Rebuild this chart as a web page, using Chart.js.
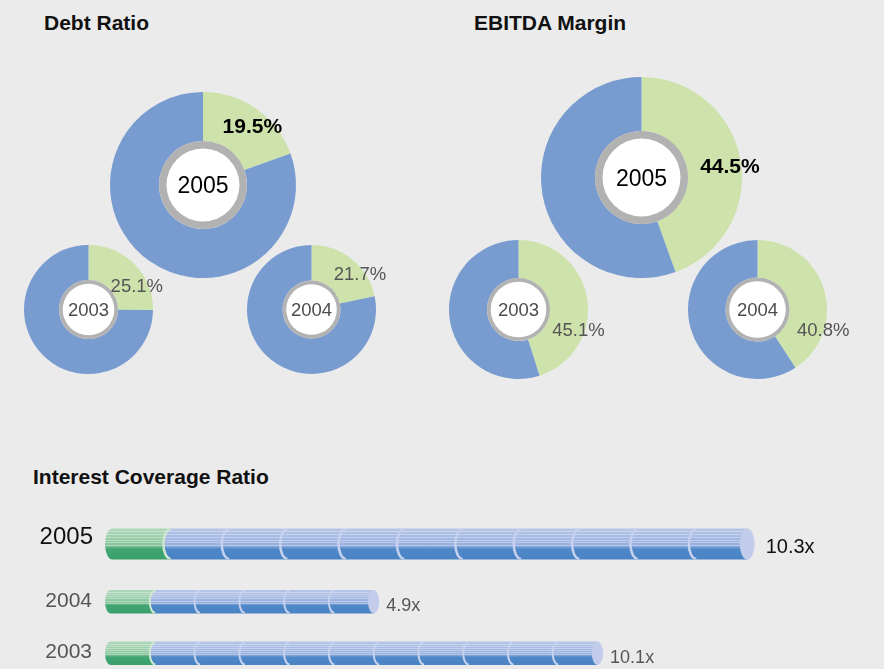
<!DOCTYPE html>
<html>
<head>
<meta charset="utf-8">
<script src="https://cdn.jsdelivr.net/npm/chart.js@4.4.0/dist/chart.umd.min.js"></script>
<style>
html, body { margin: 0; padding: 0; background: #ebebeb; overflow: hidden; }
#page { position: relative; width: 884px; height: 669px; font-family: Arial, 'Liberation Sans', sans-serif; }
#page canvas { position: absolute; }
.title { position: absolute; font-weight: bold; font-size: 21px; line-height: 21px; color: #111; white-space: nowrap; }
</style>
</head>
<body>
<div id="page">
  <div class="title" style="left:44px;top:12px">Debt Ratio</div>
  <div class="title" style="left:474px;top:12px">EBITDA Margin</div>
  <div class="title" style="left:33px;top:466px">Interest Coverage Ratio</div>
</div>
<script>
const FONT = "Arial, 'Liberation Sans', sans-serif";

// doughnut data
const years = ['2003', '2004', '2005'];
const debtRatio = [25.1, 21.7, 19.5];
const ebitdaMargin = [45.1, 40.8, 44.5];

// interest coverage
const coverageYears = ['2005', '2004', '2003'];
const coverageRatio = [10.3, 4.9, 10.1];
const greenBlocks = [1, 1, 1];
const blueBlocks = [10, 5, 10];

const BLUE = '#789cd0';
const GREEN = '#cee3ab';

// placement of each doughnut (same order as years)
const debtLayout = [
  { cx: 88.5, cy: 309.5, r: 64.5, ring: 29.5, dx: 15, dy: 9 },
  { cx: 311.5, cy: 309.5, r: 64.5, ring: 29, dx: 19, dy: 0 },
  { cx: 203, cy: 185, r: 93, ring: 44, dx: 10, dy: -3, big: true }
];
const ebitdaLayout = [
  { cx: 518.5, cy: 309.5, r: 69.5, ring: 31.5, dx: 10, dy: 28 },
  { cx: 757.5, cy: 309.5, r: 69.5, ring: 32, dx: 17, dy: 34 },
  { cx: 641.5, cy: 177, r: 100.5, ring: 46.5, dx: 16, dy: 1, big: true }
];

const page = document.getElementById('page');

function addCanvas(left, top, w, h) {
  const c = document.createElement('canvas');
  c.width = w;
  c.height = h;
  c.style.left = left + 'px';
  c.style.top = top + 'px';
  c.style.width = w + 'px';
  c.style.height = h + 'px';
  page.appendChild(c);
  return c;
}

// grey ring + white centre with the year, and the % label
function ringPlugin(year, label, lay) {
  const big = !!lay.big;
  const yearSize = big ? 23 : 18.5;
  const labelSize = big ? 21 : 18.5;
  const ringW = big ? 7.5 : 3.7;
  return {
    id: 'ring',
    afterDatasetsDraw(chart) {
      const ctx = chart.ctx;
      const arc = chart.getDatasetMeta(0).data[0];
      const x = arc.x, y = arc.y;
      ctx.save();
      ctx.fillStyle = '#b2b2b2';
      ctx.beginPath();
      ctx.arc(x, y, lay.ring, 0, Math.PI * 2);
      ctx.fill();
      ctx.fillStyle = '#fff';
      ctx.beginPath();
      ctx.arc(x, y, lay.ring - ringW, 0, Math.PI * 2);
      ctx.fill();

      ctx.textAlign = 'center';
      ctx.textBaseline = 'alphabetic';
      ctx.fillStyle = big ? '#000' : '#4d4d4d';
      ctx.font = yearSize + 'px ' + FONT;
      ctx.fillText(year, x, y + yearSize * 0.358);

      const p = arc.getCenterPoint();
      ctx.font = (big ? 'bold ' : '') + labelSize + 'px ' + FONT;
      ctx.fillStyle = big ? '#000' : '#555';
      ctx.fillText(label, p.x + lay.dx, p.y + lay.dy + labelSize * 0.358);
      ctx.restore();
    }
  };
}

function drawDoughnut(year, value, lay) {
  const pad = 40;
  const size = Math.round(lay.r * 2) + pad * 2;
  const c = addCanvas(Math.round(lay.cx - lay.r - pad), Math.round(lay.cy - lay.r - pad), size, size);
  new Chart(c, {
    type: 'doughnut',
    data: {
      labels: ['ratio', 'rest'],
      datasets: [{
        data: [value, 100 - value],
        backgroundColor: [GREEN, BLUE],
        borderWidth: 0
      }]
    },
    options: {
      responsive: false,
      animation: false,
      events: [],
      cutout: lay.ring,
      layout: { padding: pad },
      plugins: { legend: { display: false }, tooltip: { enabled: false } }
    },
    plugins: [ringPlugin(year, value.toFixed(1) + '%', lay)]
  });
}

years.forEach((y, i) => drawDoughnut(y, debtRatio[i], debtLayout[i]));
years.forEach((y, i) => drawDoughnut(y, ebitdaMargin[i], ebitdaLayout[i]));

// cylinder look for the coverage bars
function vgrad(ctx, top, h, stops) {
  const g = ctx.createLinearGradient(0, top, 0, top + h);
  stops.forEach(s => g.addColorStop(s[0], s[1]));
  return g;
}
const greenStops = [[0, '#b0d8bb'], [0.55, '#86c49a'], [0.62, '#5cb083'], [0.66, '#40a572'], [1, '#3b9f6c']];
const blueStops = [[0, '#b7c6e8'], [0.55, '#94addd'], [0.62, '#6e99d2'], [0.66, '#4f88c8'], [1, '#4a83c4']];

function cylinderPlugin(values, big) {
  const size = big ? 20 : 18;
  const gap = big ? 11 : 7;
  return {
    id: 'cylinder',
    afterDatasetsDraw(chart) {
      const ctx = chart.ctx;
      const gMeta = chart.getDatasetMeta(0);
      const bMeta = chart.getDatasetMeta(1);
      const xs = chart.scales.x;
      const unit = xs.getPixelForValue(1) - xs.getPixelForValue(0);
      gMeta.data.forEach((g, i) => {
        const b = bMeta.data[i];
        const h = b.height, y = b.y, top = y - h / 2, bot = y + h / 2;
        const x0 = g.base, x1 = g.x, x2 = b.x;
        const rx = h * 0.24;
        ctx.save();
        // green block with rounded left end
        ctx.beginPath();
        ctx.moveTo(x0 + rx, top);
        ctx.lineTo(x1 + rx, top);
        ctx.lineTo(x1 + rx, bot);
        ctx.lineTo(x0 + rx, bot);
        ctx.ellipse(x0 + rx, y, rx, h / 2, 0, Math.PI / 2, Math.PI * 1.5);
        ctx.closePath();
        ctx.fillStyle = vgrad(ctx, top, h, greenStops);
        ctx.fill();
        // blue body
        ctx.beginPath();
        ctx.moveTo(x1 + rx, top);
        ctx.lineTo(x2, top);
        ctx.lineTo(x2, bot);
        ctx.lineTo(x1 + rx, bot);
        ctx.ellipse(x1 + rx, y, rx, h / 2, 0, Math.PI / 2, Math.PI * 1.5);
        ctx.closePath();
        ctx.fillStyle = vgrad(ctx, top, h, blueStops);
        ctx.fill();
        // stripes on the upper half
        ctx.beginPath();
        ctx.moveTo(x0 + rx, top);
        ctx.lineTo(x2, top);
        ctx.lineTo(x2, bot);
        ctx.lineTo(x0 + rx, bot);
        ctx.ellipse(x0 + rx, y, rx, h / 2, 0, Math.PI / 2, Math.PI * 1.5);
        ctx.closePath();
        ctx.clip();
        ctx.strokeStyle = 'rgba(255,255,255,0.35)';
        ctx.lineWidth = 1;
        for (let k = 1; k < 7; k++) {
          const sy = Math.round(top + h * 0.09 * k) + 0.5;
          ctx.beginPath();
          ctx.moveTo(x0, sy);
          ctx.lineTo(x2, sy);
          ctx.stroke();
        }
        // joints between blocks
        const n = Math.round((x2 - x1) / unit);
        ctx.lineWidth = Math.max(2, h * 0.08);
        for (let k = 0; k < n; k++) {
          const bx = x1 + k * unit;
          ctx.strokeStyle = k === 0 ? '#cfe7d0' : '#c6d1ee';
          ctx.beginPath();
          ctx.ellipse(bx + rx, y, rx, h / 2 - 0.5, 0, Math.PI / 2, Math.PI * 1.5);
          ctx.stroke();
        }
        ctx.restore();
        // end cap
        ctx.fillStyle = '#c3cdeb';
        ctx.beginPath();
        ctx.ellipse(x2, y, rx, h / 2, 0, 0, Math.PI * 2);
        ctx.fill();
        // value label
        ctx.fillStyle = big ? '#111' : '#555';
        ctx.font = size + 'px ' + FONT;
        ctx.textAlign = 'left';
        ctx.textBaseline = 'alphabetic';
        ctx.fillText(values[i].toFixed(1) + 'x', x2 + rx + gap, y + size * 0.358 + (big ? 1.5 : 3));
      });
    }
  };
}

function drawCoverage(top, w, h, from, to, big) {
  const c = addCanvas(0, top, w, h);
  const thickness = big ? 31 : 23.5;
  new Chart(c, {
    type: 'bar',
    data: {
      labels: coverageYears.slice(from, to),
      datasets: [
        { data: greenBlocks.slice(from, to), backgroundColor: 'rgba(0,0,0,0)', barThickness: thickness },
        { data: blueBlocks.slice(from, to), backgroundColor: 'rgba(0,0,0,0)', barThickness: thickness }
      ]
    },
    options: {
      indexAxis: 'y',
      responsive: false,
      animation: false,
      events: [],
      scales: {
        x: { stacked: true, display: false, min: 0, max: 13 },
        y: {
          stacked: true,
          grid: { display: false, drawTicks: false },
          border: { display: false },
          ticks: {
            color: big ? '#111' : '#555',
            font: { family: FONT, size: big ? 24 : 21 },
            padding: big ? 12 : 13,
            labelOffset: big ? -6.5 : -1
          },
          afterFit(scale) {
            scale.width = 105;
            scale.paddingTop = 0;
            scale.paddingBottom = 0;
          }
        }
      },
      plugins: { legend: { display: false }, tooltip: { enabled: false } }
    },
    plugins: [cylinderPlugin(coverageRatio.slice(from, to), big)]
  });
}

drawCoverage(520, 864, 48, 0, 1, true);
drawCoverage(576, 687, 103, 1, 3, false);
</script>
</body>
</html>
